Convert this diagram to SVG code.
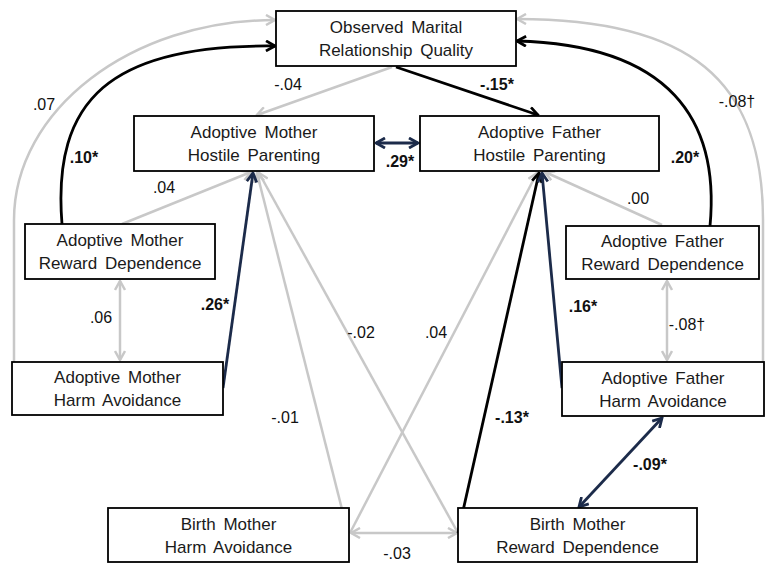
<svg xmlns="http://www.w3.org/2000/svg" width="765" height="566" viewBox="0 0 765 566">
<style>
.box{fill:#fff;stroke:#000;stroke-width:1.8}
.nt{font-family:"Liberation Sans",Arial,sans-serif;font-size:17px;fill:#1a1a1a;text-anchor:middle;word-spacing:3px}
.lb{font-family:"Liberation Sans",Arial,sans-serif;font-size:16px;fill:#111;text-anchor:middle}
.b{font-weight:bold}
.g{fill:none;stroke:#c8c8c8;stroke-width:2.5}
.k{fill:none;stroke:#000;stroke-width:2.8}
.n{fill:none;stroke:#1c2b4a;stroke-width:2.8}
</style>
<defs>
<marker id="ag" viewBox="0 0 12 12" markerWidth="12" markerHeight="12" refX="10.5" refY="6" orient="auto-start-reverse" markerUnits="userSpaceOnUse"><path d="M1.5,1 L10.5,6 L1.5,11" fill="none" stroke="#c8c8c8" stroke-width="2.5"/></marker>
<marker id="ak" viewBox="0 0 12 12" markerWidth="12" markerHeight="12" refX="10.5" refY="6" orient="auto-start-reverse" markerUnits="userSpaceOnUse"><path d="M1.5,1 L10.5,6 L1.5,11" fill="none" stroke="#000" stroke-width="2.8"/></marker>
<marker id="an" viewBox="0 0 12 12" markerWidth="12" markerHeight="12" refX="10.5" refY="6" orient="auto-start-reverse" markerUnits="userSpaceOnUse"><path d="M1.5,1 L10.5,6 L1.5,11" fill="none" stroke="#1c2b4a" stroke-width="2.8"/></marker>
</defs>
<rect width="765" height="566" fill="#fff"/>
<g id="connectors">
<path class="g" d="M392,67 L257,115" marker-end="url(#ag)"/>
<path class="g" d="M14,362 L14,220 C14,110 131,20 275,20" marker-end="url(#ag)"/>
<path class="g" d="M763,362 L763,220 C763,80 690,19 517,19" marker-end="url(#ag)"/>
<path class="g" d="M122,224 L251,172" marker-end="url(#ag)"/>
<path class="g" d="M348,533 L257,173" marker-end="url(#ag)"/>
<path class="g" d="M458,533 L259,173" marker-end="url(#ag)"/>
<path class="g" d="M350,533 L537,173" marker-end="url(#ag)"/>
<path class="g" d="M662,225 L545,172" marker-end="url(#ag)"/>
<path class="g" d="M120,281 L120,360" marker-start="url(#ag)" marker-end="url(#ag)"/>
<path class="g" d="M667,281 L667,360" marker-start="url(#ag)" marker-end="url(#ag)"/>
<path class="g" d="M351,533 L457,533" marker-start="url(#ag)" marker-end="url(#ag)"/>
<path class="k" d="M396,67 L538,115" marker-end="url(#ak)"/>
<path class="k" d="M62,224 C52,100 110,44 275,46" marker-end="url(#ak)"/>
<path class="k" d="M710,226 C720,120 670,45 517,41" marker-end="url(#ak)"/>
<path class="k" d="M458,533 L539,173" marker-end="url(#ak)"/>
<path class="n" d="M376,143 L418,143" marker-start="url(#an)" marker-end="url(#an)"/>
<path class="n" d="M223,388 L253,173" marker-end="url(#an)"/>
<path class="n" d="M562,388 L542,173" marker-end="url(#an)"/>
<path class="n" d="M662,418 L579,507" marker-start="url(#an)" marker-end="url(#an)"/>
<text class="lb" x="288" y="90">-.04</text>
<text class="lb b" x="497" y="90">-.15*</text>
<text class="lb b" x="400" y="167">.29*</text>
<text class="lb b" x="84" y="163">.10*</text>
<text class="lb" x="44" y="110">.07</text>
<text class="lb b" x="685" y="163">.20*</text>
<text class="lb" x="737" y="107">-.08†</text>
<text class="lb" x="164" y="193">.04</text>
<text class="lb b" x="215" y="310">.26*</text>
<text class="lb" x="285" y="423">-.01</text>
<text class="lb" x="361" y="338">-.02</text>
<text class="lb" x="436" y="338">.04</text>
<text class="lb b" x="512" y="423">-.13*</text>
<text class="lb b" x="583" y="312">.16*</text>
<text class="lb" x="638" y="204">.00</text>
<text class="lb" x="101" y="323">.06</text>
<text class="lb" x="687" y="330">-.08†</text>
<text class="lb b" x="650" y="470">-.09*</text>
<text class="lb" x="397" y="559">-.03</text>
</g>
<g id="obs"><rect class="box" x="276" y="11" width="240" height="55"/><text class="nt" x="396" y="33">Observed Marital</text><text class="nt" x="396" y="56">Relationship Quality</text></g>
<g id="amhp"><rect class="box" x="134" y="116" width="240" height="55"/><text class="nt" x="254" y="138">Adoptive Mother</text><text class="nt" x="254" y="161">Hostile Parenting</text></g>
<g id="afhp"><rect class="box" x="420" y="116" width="239" height="55"/><text class="nt" x="539.5" y="138">Adoptive Father</text><text class="nt" x="539.5" y="161">Hostile Parenting</text></g>
<g id="amrd"><rect class="box" x="25" y="224" width="190" height="55"/><text class="nt" x="120" y="246">Adoptive Mother</text><text class="nt" x="120" y="269">Reward Dependence</text></g>
<g id="amha"><rect class="box" x="12" y="362" width="211" height="53"/><text class="nt" x="117.5" y="383">Adoptive Mother</text><text class="nt" x="117.5" y="406">Harm Avoidance</text></g>
<g id="afrd"><rect class="box" x="566" y="226" width="193" height="53"/><text class="nt" x="662.5" y="247">Adoptive Father</text><text class="nt" x="662.5" y="270">Reward Dependence</text></g>
<g id="afha"><rect class="box" x="562" y="362" width="202" height="54"/><text class="nt" x="663" y="383.5">Adoptive Father</text><text class="nt" x="663" y="406.5">Harm Avoidance</text></g>
<g id="bmha"><rect class="box" x="108" y="508" width="241" height="54"/><text class="nt" x="228.5" y="529.5">Birth Mother</text><text class="nt" x="228.5" y="552.5">Harm Avoidance</text></g>
<g id="bmrd"><rect class="box" x="458" y="508" width="239" height="54"/><text class="nt" x="577.5" y="529.5">Birth Mother</text><text class="nt" x="577.5" y="552.5">Reward Dependence</text></g>
</svg>
